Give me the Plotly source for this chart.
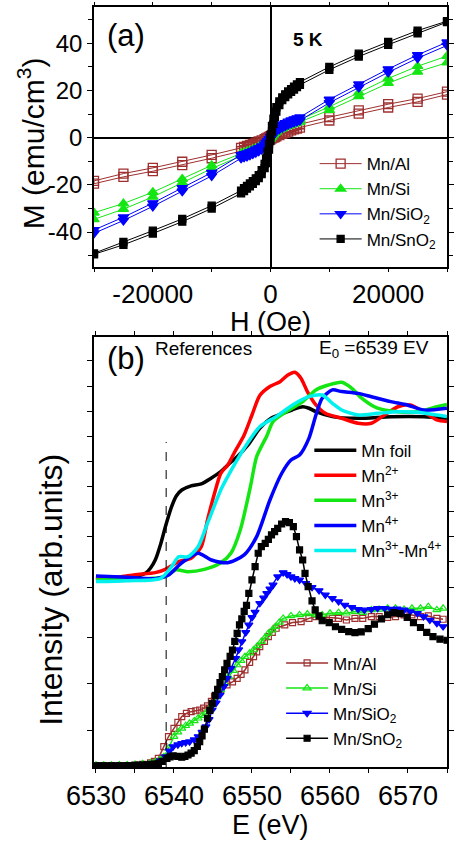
import plotly.graph_objects as go

FONT = "Liberation Sans, Arial, Helvetica, sans-serif"

# ---------------- Panel (a): M-H loops at 5 K ----------------
H = [-30000, -25000, -20000, -15000, -10000, -5000, -4500, -4000, -3500, -3000, -2500, -2000,
     -1500, -1000, -750, -500, -250, 0, 250, 500, 750, 1000, 1500, 2000, 2500, 3000, 3500,
     4000, 4500, 5000, 10000, 15000, 20000, 25000, 30000]

# descending-field branch (listed at increasing H) and ascending-field branch
al_desc = [-18.3, -15.2, -12.8, -10.2, -7.3, -4.3, -3.9, -3.5, -3.1, -2.6, -2.1, -1.6, -1.1, -0.6, -0.3,
           0.0, 0.3, 0.7, 1.1, 1.4, 1.7, 2.0, 2.5, 3.0, 3.5, 4.0, 4.5, 4.9, 5.3, 5.7, 8.7, 11.6, 14.2, 16.6, 19.5]
al_asc = [-19.5, -16.6, -14.2, -11.6, -8.7, -5.7, -5.3, -4.9, -4.5, -4.0, -3.5, -3.0, -2.5, -2.0, -1.7,
          -1.4, -1.1, -0.7, -0.3, 0.0, 0.3, 0.6, 1.1, 1.6, 2.1, 2.6, 3.1, 3.5, 3.9, 4.3, 7.3, 10.2, 12.8, 15.2, 18.3]
si_desc = [-31.8, -27.9, -23.1, -17.5, -11.7, -6.7, -6.3, -5.9, -5.5, -5.0, -4.5, -3.9, -3.3, -2.5, -1.9,
           -1.2, -0.4, 0.5, 1.4, 2.2, 2.9, 3.5, 4.3, 4.9, 5.5, 6.0, 6.5, 6.9, 7.3, 7.7, 13.1, 19.1, 25.1, 30.3, 34.6]
si_asc = [-34.6, -30.3, -25.1, -19.1, -13.1, -7.7, -7.3, -6.9, -6.5, -6.0, -5.5, -4.9, -4.3, -3.5, -2.9,
          -2.2, -1.4, -0.5, 0.4, 1.2, 1.9, 2.5, 3.3, 3.9, 4.5, 5.0, 5.5, 5.9, 6.3, 6.7, 11.7, 17.5, 23.1, 27.9, 31.8]
sio2_desc = [-39.1, -33.7, -27.7, -21.3, -14.8, -7.3, -6.9, -6.5, -6.0, -5.5, -4.9, -4.3, -3.6, -2.8, -2.1,
             -1.4, -0.5, 0.5, 1.5, 2.4, 3.2, 4.0, 5.0, 5.7, 6.3, 6.9, 7.4, 7.9, 8.3, 8.7, 16.2, 22.7, 29.1, 35.1, 40.5]
sio2_asc = [-40.5, -35.1, -29.1, -22.7, -16.2, -8.7, -8.3, -7.9, -7.4, -6.9, -6.3, -5.7, -5.0, -4.0, -3.2,
            -2.4, -1.5, -0.5, 0.5, 1.4, 2.1, 2.8, 3.6, 4.3, 4.9, 5.5, 6.0, 6.5, 6.9, 7.3, 14.8, 21.3, 27.7, 33.7, 39.1]
sno2_desc = [-49.0, -44.2, -39.4, -34.4, -28.8, -22.4, -21.4, -20.4, -19.4, -18.4, -17.2, -15.9, -13.8, -11.1,
             -8.8, -5.9, -2.6, 1.2, 5.0, 8.1, 10.8, 12.9, 15.4, 17.1, 18.4, 19.6, 20.6, 21.6, 22.6, 23.6,
             30.0, 35.6, 40.6, 45.4, 49.4]
sno2_asc = [-49.4, -45.4, -40.6, -35.6, -30.0, -23.6, -22.6, -21.6, -20.6, -19.6, -18.4, -17.1, -15.4, -12.9,
            -10.8, -8.1, -5.0, -1.2, 2.6, 5.9, 8.8, 11.1, 13.8, 15.9, 17.2, 18.4, 19.4, 20.4, 21.4, 22.4,
            28.8, 34.4, 39.4, 44.2, 49.0]

# ---------------- Panel (b): XANES ----------------
E0 = 6539
foil_E = [6530.0, 6532.0, 6534.0, 6535.5, 6536.4, 6537.0, 6537.6, 6538.3, 6538.9, 6539.7, 6540.3, 6541.0,
          6542.2, 6543.5, 6544.8, 6546.0, 6546.9, 6548.1, 6549.5, 6551.0, 6552.5, 6554.0, 6555.2, 6556.5,
          6557.3, 6558.2, 6560.3, 6563.6, 6567.8, 6572.0, 6575.0]
foil_I = [1.240, 1.245, 1.255, 1.270, 1.287, 1.320, 1.373, 1.480, 1.595, 1.729, 1.800, 1.840,
          1.867, 1.880, 1.920, 1.962, 2.007, 2.062, 2.140, 2.251, 2.320, 2.351, 2.375, 2.395,
          2.385, 2.362, 2.329, 2.318, 2.329, 2.329, 2.318]
mn2_E = [6530.0, 6533.0, 6535.0, 6537.6, 6538.9, 6540.6, 6542.2, 6543.5, 6544.3, 6545.2, 6546.0, 6546.9,
         6547.7, 6549.0, 6550.0, 6551.0, 6552.3, 6553.6, 6554.6, 6555.5, 6556.3, 6557.1, 6558.2, 6559.4,
         6561.5, 6563.6, 6565.3, 6567.0, 6568.7, 6570.3, 6572.0, 6573.7, 6575.0]
mn2_I = [1.245, 1.260, 1.275, 1.289, 1.311, 1.362, 1.385, 1.462, 1.640, 1.818, 1.951, 2.007,
         2.085, 2.207, 2.340, 2.470, 2.530, 2.562, 2.607, 2.625, 2.584, 2.496, 2.407, 2.351,
         2.318, 2.285, 2.285, 2.340, 2.395, 2.407, 2.362, 2.307, 2.296]
mn3_E = [6530.0, 6534.0, 6537.0, 6538.9, 6540.2, 6541.8, 6543.9, 6546.0, 6547.3, 6548.5, 6549.8, 6550.6,
         6551.9, 6552.7, 6554.4, 6556.5, 6558.2, 6559.8, 6561.5, 6562.8, 6564.1, 6566.1, 6568.7, 6571.2,
         6573.7, 6575.0]
mn3_I = [1.240, 1.245, 1.250, 1.262, 1.307, 1.295, 1.311, 1.355, 1.418, 1.573, 1.862, 2.062,
         2.200, 2.296, 2.362, 2.429, 2.507, 2.540, 2.558, 2.518, 2.451, 2.385, 2.362, 2.362,
         2.395, 2.411]
mn4_E = [6530.0, 6534.0, 6537.6, 6539.3, 6541.0, 6543.1, 6544.8, 6546.9, 6549.0, 6550.6, 6552.3, 6553.8,
         6555.0, 6556.1, 6557.3, 6558.2, 6559.0, 6560.3, 6561.5, 6563.6, 6565.3, 6567.8, 6569.9, 6572.0,
         6575.0]
mn4_I = [1.267, 1.258, 1.249, 1.273, 1.355, 1.418, 1.373, 1.355, 1.407, 1.529, 1.773, 1.950,
         2.040, 2.073, 2.184, 2.340, 2.451, 2.507, 2.496, 2.484, 2.462, 2.429, 2.407, 2.373,
         2.385]
mn34_E = [6530.0, 6534.0, 6538.3, 6539.7, 6540.6, 6541.8, 6543.1, 6544.3, 6546.0, 6546.9, 6548.1, 6549.0,
          6551.0, 6553.1, 6555.2, 6557.3, 6559.0, 6560.3, 6561.5, 6563.6, 6566.1, 6568.7, 6571.2, 6573.7,
          6575.0]
mn34_I = [1.229, 1.235, 1.251, 1.329, 1.395, 1.395, 1.462, 1.618, 1.840, 1.930, 2.040, 2.118,
          2.262, 2.329, 2.407, 2.462, 2.473, 2.418, 2.373, 2.340, 2.351, 2.362, 2.358, 2.340,
          2.329]

al_E = [6530, 6531, 6532, 6533, 6534, 6535, 6536, 6537, 6537.5, 6538.0, 6538.7, 6539.3, 6540.0, 6540.5,
        6541.0, 6541.6, 6542.2, 6542.8, 6543.3, 6543.8, 6544.3, 6544.8, 6545.2, 6546.0, 6546.8, 6547.5,
        6548.1, 6548.6, 6549.1, 6549.7, 6550.2, 6550.6, 6551.0, 6551.6, 6552.1, 6552.6, 6553.1, 6554.2,
        6555.2, 6556.3, 6557.3, 6558.2, 6559.2, 6560.3, 6561.1, 6562.1, 6563.2, 6564.2, 6565.3, 6566.3,
        6567.4, 6568.4, 6569.5, 6570.5, 6571.6, 6572.6, 6573.7, 6574.5]
al_I = [0.0, 0.0, 0.0, 0.0, 0.002, 0.005, 0.010, 0.020, 0.030, 0.051, 0.129, 0.196, 0.251, 0.290,
        0.329, 0.350, 0.362, 0.368, 0.373, 0.385, 0.400, 0.430, 0.462, 0.507, 0.540, 0.560,
        0.584, 0.610, 0.640, 0.690, 0.729, 0.760, 0.796, 0.830, 0.862, 0.890, 0.918, 0.940,
        0.956, 0.962, 0.984, 0.996, 0.991, 0.984, 0.984, 0.973, 0.984, 0.984, 0.996, 0.996,
        0.991, 0.996, 1.007, 1.007, 0.996, 1.000, 0.984, 0.978]
si_E = [6530, 6531, 6532, 6533, 6534, 6535, 6536, 6537, 6537.6, 6538.2, 6538.7, 6539.3, 6540.0, 6540.5,
        6541.0, 6541.5, 6542.0, 6542.6, 6543.1, 6543.6, 6544.1, 6544.5, 6544.9, 6545.5, 6546.0, 6546.5,
        6547.0, 6547.6, 6548.1, 6548.6, 6549.1, 6549.7, 6550.2, 6550.7, 6551.2, 6551.7, 6552.1, 6552.6,
        6553.0, 6553.5, 6554.0, 6555.0, 6556.1, 6557.1, 6558.2, 6559.0, 6560.0, 6561.1, 6562.1, 6563.2,
        6564.2, 6565.3, 6566.3, 6567.4, 6568.4, 6569.5, 6570.5, 6571.6, 6572.6, 6573.7, 6574.5]
si_I = [0.005, 0.005, 0.005, 0.006, 0.007, 0.010, 0.015, 0.020, 0.027, 0.040, 0.060, 0.118, 0.196, 0.225,
        0.251, 0.268, 0.284, 0.300, 0.318, 0.335, 0.351, 0.375, 0.407, 0.460, 0.507, 0.550,
        0.596, 0.635, 0.673, 0.702, 0.729, 0.752, 0.773, 0.800, 0.829, 0.858, 0.884, 0.906,
        0.929, 0.957, 0.984, 1.000, 1.007, 1.013, 1.007, 1.007, 1.018, 1.022, 1.018, 1.029,
        1.022, 1.040, 1.044, 1.051, 1.051, 1.044, 1.051, 1.051, 1.062, 1.040, 1.051]
sio2_E = [6530, 6531, 6532, 6533, 6534, 6535, 6536, 6537, 6537.6, 6538.3, 6538.9, 6539.4, 6539.9, 6540.5,
          6541.0, 6541.5, 6542.0, 6542.6, 6543.1, 6543.6, 6544.1, 6544.5, 6544.9, 6545.4, 6545.9, 6546.4,
          6546.8, 6547.3, 6547.9, 6548.3, 6548.7, 6549.2, 6549.6, 6550.0, 6550.4, 6551.0, 6551.5, 6551.9,
          6552.3, 6552.7, 6553.3, 6554.0, 6554.5, 6555.0, 6555.5, 6556.1, 6556.9, 6557.7, 6558.6, 6559.4,
          6560.3, 6561.1, 6561.9, 6562.8, 6563.6, 6564.4, 6565.3, 6566.1, 6567.0, 6567.8, 6568.6, 6569.5,
          6570.3, 6571.2, 6572.0, 6572.8, 6573.7, 6574.5]
sio2_I = [0.0, 0.0, 0.0, 0.0, 0.002, 0.004, 0.008, 0.012, 0.018, 0.035, 0.062, 0.100, 0.129, 0.142,
          0.151, 0.157, 0.162, 0.175, 0.196, 0.225, 0.262, 0.310, 0.373, 0.420, 0.473, 0.530,
          0.584, 0.650, 0.718, 0.775, 0.829, 0.890, 0.940, 0.990, 1.025, 1.084, 1.120, 1.151,
          1.180, 1.207, 1.262, 1.289, 1.277, 1.262, 1.250, 1.240, 1.218, 1.191, 1.169, 1.140,
          1.118, 1.096, 1.073, 1.058, 1.044, 1.040, 1.044, 1.051, 1.051, 1.045, 1.048, 1.040,
          1.029, 1.018, 0.996, 0.973, 0.951, 0.929]
sno2_E = [6530.0, 6530.5, 6531.0, 6531.5, 6532.0, 6532.5, 6533.0, 6533.5, 6534.0, 6534.5, 6535.0, 6535.5,
          6536.0, 6536.5, 6537.0, 6537.5, 6538.0, 6538.5, 6539.1, 6539.5, 6539.9, 6540.5, 6541.0, 6541.4,
          6541.8, 6542.2, 6542.6, 6543.0, 6543.3, 6543.6, 6543.9, 6544.3, 6544.6, 6544.9, 6545.3, 6545.6,
          6545.9, 6546.2, 6546.5, 6546.8, 6547.2, 6547.5, 6547.8, 6548.1, 6548.4, 6548.7, 6549.0, 6549.3,
          6549.6, 6550.0, 6550.4, 6550.8, 6551.2, 6551.7, 6552.1, 6552.5, 6552.9, 6553.3, 6553.8, 6554.3,
          6554.8, 6555.3, 6555.7, 6556.1, 6556.5, 6556.8, 6557.2, 6557.7, 6558.1, 6558.6, 6559.0, 6559.9,
          6560.7, 6561.5, 6562.4, 6563.2, 6564.0, 6564.9, 6565.7, 6566.6, 6567.4, 6568.2, 6569.0, 6569.9,
          6570.7, 6571.6, 6572.4, 6573.2, 6574.1, 6575.0]
sno2_I = [0.0, 0.0, 0.0, 0.0, 0.0, 0.0, 0.0, 0.001, 0.002, 0.003, 0.004, 0.005,
          0.006, 0.008, 0.010, 0.013, 0.017, 0.030, 0.051, 0.060, 0.067, 0.064, 0.058, 0.064,
          0.073, 0.085, 0.102, 0.130, 0.162, 0.200, 0.245, 0.318, 0.370, 0.418, 0.470, 0.511,
          0.555, 0.596, 0.640, 0.684, 0.730, 0.773, 0.830, 0.884, 0.940, 0.980, 1.030, 1.070,
          1.150, 1.240, 1.329, 1.418, 1.462, 1.484, 1.511, 1.540, 1.562, 1.584, 1.613, 1.629,
          1.622, 1.596, 1.529, 1.440, 1.373, 1.284, 1.196, 1.100, 1.040, 1.000, 0.968, 0.955,
          0.928, 0.910, 0.896, 0.889, 0.894, 0.915, 0.945, 0.980, 1.008, 1.022, 1.016, 0.990,
          0.956, 0.923, 0.890, 0.862, 0.845, 0.838]

BROWN = "#9e2f2f"
GREEN = "#14e614"
BLUE = "#0000ff"
RED = "#ff0000"
CYAN = "#00f0f0"

fig = go.Figure()

def loop(desc, asc):
    return H[::-1] + H, desc[::-1] + asc

samples_a = [
    ("Mn/Al", al_desc, al_asc, BROWN, "square-open", 9),
    ("Mn/Si", si_desc, si_asc, GREEN, "triangle-up", 9),
    ("Mn/SiO<sub>2</sub>", sio2_desc, sio2_asc, BLUE, "triangle-down", 9),
    ("Mn/SnO<sub>2</sub>", sno2_desc, sno2_asc, "black", "square", 7),
]
for name, d, a, col, sym, sz in samples_a:
    xs, ys = loop(d, a)
    fig.add_trace(go.Scatter(x=xs, y=ys, mode="lines+markers", name=name,
                             line=dict(color=col, width=1),
                             marker=dict(symbol=sym, size=sz, color=col,
                                         line=dict(color=col, width=1.3)),
                             xaxis="x", yaxis="y", legend="legend"))

refs = [
    ("Mn foil", foil_E, foil_I, "black"),
    ("Mn<sup>2+</sup>", mn2_E, mn2_I, RED),
    ("Mn<sup>3+</sup>", mn3_E, mn3_I, GREEN),
    ("Mn<sup>4+</sup>", mn4_E, mn4_I, BLUE),
    ("Mn<sup>3+</sup>-Mn<sup>4+</sup>", mn34_E, mn34_I, CYAN),
]
for name, xs, ys, col in refs:
    fig.add_trace(go.Scatter(x=xs, y=ys, mode="lines", name=name,
                             line=dict(color=col, width=3.5, shape="spline", smoothing=0.7),
                             xaxis="x2", yaxis="y2", legend="legend2"))

samples_b = [
    ("Mn/Al", al_E, al_I, BROWN, "square-open", 6),
    ("Mn/Si", si_E, si_I, GREEN, "triangle-up-open", 7),
    ("Mn/SiO<sub>2</sub>", sio2_E, sio2_I, BLUE, "triangle-down", 7),
    ("Mn/SnO<sub>2</sub>", sno2_E, sno2_I, "black", "square", 6),
]
for name, xs, ys, col, sym, sz in samples_b:
    fig.add_trace(go.Scatter(x=xs, y=ys, mode="lines+markers", name=name,
                             line=dict(color=col, width=1.5),
                             marker=dict(symbol=sym, size=sz, color=col,
                                         line=dict(color=col, width=1.2)),
                             xaxis="x2", yaxis="y2", legend="legend3"))

fig.add_shape(type="line", xref="x2", yref="y2", x0=E0, x1=E0, y0=-0.007, y1=2.16,
              line=dict(color="black", width=1, dash="dash"))

axis_common = dict(showline=True, linecolor="black", linewidth=1.5, mirror="ticks",
                   ticks="outside", tickcolor="black", tickwidth=1.2,
                   showgrid=False, color="black")

def title_ann(text, x, y, size, angle=0):
    return dict(text=text, xref="paper", yref="paper", x=x, y=y, xanchor="center",
                yanchor="middle", showarrow=False, textangle=angle, font=dict(size=size))

fig.update_layout(
    width=454, height=846,
    margin=dict(l=94, r=0, t=7, b=79),
    paper_bgcolor="white", plot_bgcolor="rgba(0,0,0,0)",
    font=dict(family=FONT, color="black"),
    showlegend=True,
    xaxis=dict(domain=[0, 1], anchor="y", range=[-30000, 30000],
               tickvals=[-20000, 0, 20000], ticktext=["-20000", "0", "20000"],
               tickfont=dict(size=26), ticklen=3,
               minor=dict(dtick=10000, tick0=0, ticks="outside", ticklen=3, tickcolor="black"),
               zeroline=True, zerolinecolor="black", zerolinewidth=2,
               **axis_common),
    yaxis=dict(domain=[0.6579, 1], anchor="x", range=[-54.8, 55.4],
               tickvals=[-40, -20, 0, 20, 40], ticktext=["-40", "-20", "0", "20", "40"],
               tickfont=dict(size=24), ticklen=5,
               minor=dict(dtick=10, tick0=0, ticks="outside", ticklen=4, tickcolor="black"),
               zeroline=True, zerolinecolor="black", zerolinewidth=2,
               **axis_common),
    xaxis2=dict(domain=[0, 1], anchor="y2", range=[6529.75, 6575],
                tickvals=[6530, 6540, 6550, 6560, 6570],
                tickfont=dict(size=27), ticklen=4,
                minor=dict(dtick=5, tick0=6530, ticks="outside", ticklen=4, tickcolor="black"),
                zeroline=False,
                **axis_common),
    yaxis2=dict(domain=[0, 0.5658], anchor="x2", range=[-0.007, 2.86],
                tickvals=[0.239, 0.551, 0.858, 1.191, 1.361, 1.529, 1.696, 1.862, 2.03, 2.196, 2.363, 2.533, 2.70],
                showticklabels=False, zeroline=False, ticklen=5,
                **axis_common),
    legend=dict(x=0.625, y=0.817, xanchor="left", yanchor="top", bgcolor="rgba(0,0,0,0)",
                font=dict(size=17), itemwidth=42, tracegroupgap=0),
    legend2=dict(x=0.61, y=0.440, xanchor="left", yanchor="top", bgcolor="rgba(0,0,0,0)",
                 font=dict(size=17), itemwidth=42, tracegroupgap=0),
    legend3=dict(x=0.53, y=0.160, xanchor="left", yanchor="top", bgcolor="rgba(0,0,0,0)",
                 font=dict(size=17), itemwidth=42, tracegroupgap=0),
    annotations=[
        title_ann("H (Oe)", 0.5, 0.5855, 27),
        title_ann("M (emu/cm<sup>3</sup>)", -0.178, 0.821, 30, -90),
        title_ann("E (eV)", 0.5, -0.0763, 27),
        title_ann("Intensity (arb.units)", -0.122, 0.233, 32, -90),
        dict(text="(a)", xref="paper", yref="paper", x=0.09, y=0.962, xanchor="center", yanchor="middle",
             showarrow=False, font=dict(size=31)),
        dict(text="<b>5 K</b>", xref="paper", yref="paper", x=0.605, y=0.957, xanchor="center",
             yanchor="middle", showarrow=False, font=dict(size=19)),
        dict(text="(b)", xref="paper", yref="paper", x=0.09, y=0.537, xanchor="center", yanchor="middle",
             showarrow=False, font=dict(size=31)),
        dict(text="References", xref="paper", yref="paper", x=0.31, y=0.5505, xanchor="center",
             yanchor="middle", showarrow=False, font=dict(size=19)),
        dict(text="E<sub>0</sub> =6539 EV", xref="paper", yref="paper", x=0.792, y=0.5505,
             xanchor="center", yanchor="middle", showarrow=False, font=dict(size=19)),
    ],
)

fig.write_html("out.html")
